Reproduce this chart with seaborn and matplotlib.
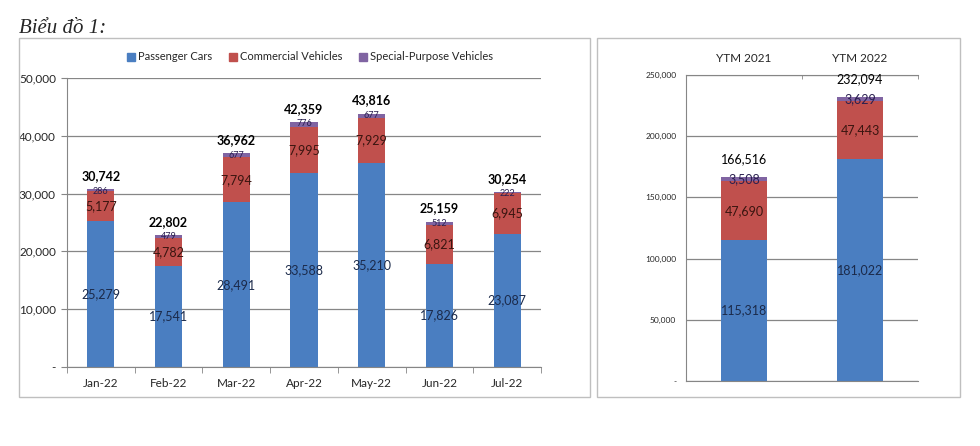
import numpy as np
import pandas as pd
import matplotlib
matplotlib.use("Agg")
import matplotlib.pyplot as plt
from matplotlib.patches import Rectangle
import seaborn as sns

# monthly data
months = ["Jan-22", "Feb-22", "Mar-22", "Apr-22", "May-22", "Jun-22", "Jul-22"]
passenger = [25279, 17541, 28491, 33588, 35210, 17826, 23087]
commercial = [5177, 4782, 7794, 7995, 7929, 6821, 6945]
special = [286, 479, 677, 776, 677, 512, 222]
totals = [30742, 22802, 36962, 42359, 43816, 25159, 30254]

# year-to-month data
ytm_years = ["YTM 2021", "YTM 2022"]
ytm_passenger = [115318, 181022]
ytm_commercial = [47690, 47443]
ytm_special = [3508, 3629]
ytm_totals = [166516, 232094]

series_names = ["Passenger Cars", "Commercial Vehicles", "Special-Purpose Vehicles"]
colors = ["#4A7EC1", "#C0504D", "#8064A2"]
label_colors = ["#1B2A4A", "#3A1510", "#2A2050"]

sns.set_style("white")
plt.rcParams["font.family"] = ["Lato", "DejaVu Sans"]

fig = plt.figure(figsize=(9.8, 4.46), dpi=100)

# panel frames
for x0, x1 in [(19, 590), (597, 960)]:
    fig.patches.append(Rectangle((x0 / 980, 1 - 397 / 446), (x1 - x0) / 980, (397 - 38) / 446,
                                 transform=fig.transFigure, fill=False,
                                 edgecolor="#BFBFBF", linewidth=1.0))

fig.text(19 / 980, 1 - 33 / 446, "Biểu đồ 1:", family="Liberation Serif",
         style="italic", fontsize=15, ha="left", va="baseline")


def stacked(ax, cats, layers):
    df = pd.DataFrame({"cat": cats})
    cum = np.cumsum(np.array(layers), axis=0)
    # draw from the top cumulative down so lower layers cover upper ones
    for i in range(len(layers) - 1, -1, -1):
        df["v"] = cum[i]
        sns.barplot(data=df, x="cat", y="v", color=colors[i], width=0.4,
                    saturation=1, ax=ax, linewidth=0, order=cats)
    return cum


def frame(ax, color="#868686"):
    ax.set_xlim(-0.5, len(ax.get_xticks()) - 0.5)
    ax.set_xlabel("")
    ax.set_ylabel("")
    ax.grid(axis="y", color=color, linewidth=0.9)
    ax.set_axisbelow(True)
    for s in ax.spines.values():
        s.set_color(color)


# ---------------- left chart: monthly ----------------
ax1 = fig.add_axes([67 / 980, 1 - 367 / 446, (541 - 67) / 980, (367 - 78) / 446])
layers = [passenger, commercial, special]
cum = stacked(ax1, months, layers)
frame(ax1)
ax1.spines["top"].set_visible(False)
ax1.spines["right"].set_visible(False)
ax1.set_ylim(0, 50000)
ax1.set_yticks(range(0, 50001, 10000))
ax1.set_yticklabels(["-"] + [f"{v:,}" for v in range(10000, 50001, 10000)])
ax1.tick_params(axis="y", length=4, color="#868686", labelsize=8.5, left=True, pad=4)
ax1.tick_params(axis="x", length=0, labelsize=8.5, pad=8)
ax1.set_xticks(np.arange(-0.5, 7, 1), minor=True)
ax1.tick_params(axis="x", which="minor", length=4, color="#868686", bottom=True)

for j in range(len(months)):
    lo = 0
    for i, vals in enumerate(layers):
        v = vals[j]
        mid = lo + v / 2
        if i == 2:
            ax1.text(j, cum[i][j] - 300, f"{v:,}", ha="center", va="center",
                     fontsize=6.5, color=label_colors[i])
        else:
            ax1.text(j, mid, f"{v:,}", ha="center", va="center",
                     fontsize=9, color=label_colors[i])
        lo += v
    ax1.text(j, totals[j] + 1300, f"{totals[j]:,}", ha="center", va="bottom",
             fontsize=9, fontweight="bold", color="black")

handles = [Rectangle((0, 0), 1, 1, color=c) for c in colors]
fig.legend(handles, series_names, loc="center", bbox_to_anchor=(310 / 980, 1 - 57 / 446),
           ncol=3, frameon=False, fontsize=8, handlelength=0.7, handleheight=0.7,
           handletextpad=0.3, columnspacing=1.5)

# ---------------- right chart: YTM ----------------
ax2 = fig.add_axes([686 / 980, 1 - 381 / 446, 232 / 980, 306 / 446])
ylayers = [ytm_passenger, ytm_commercial, ytm_special]
ycum = stacked(ax2, ytm_years, ylayers)
frame(ax2)
ax2.spines["right"].set_visible(False)
ax2.set_ylim(0, 250000)
ax2.set_yticks(range(0, 250001, 50000))
ax2.set_yticklabels(["-"] + [f"{v:,}" for v in range(50000, 250001, 50000)])
ax2.tick_params(axis="y", length=0, labelsize=6, pad=7)
ax2.xaxis.tick_top()
ax2.tick_params(axis="x", length=0, labelsize=8.5, pad=8, top=False)
ax2.set_xticks(np.arange(-0.5, 2, 1), minor=True)
ax2.tick_params(axis="x", which="minor", length=3, color="#868686", top=True, bottom=False,
                direction="in")

for j in range(len(ytm_years)):
    lo = 0
    for i, vals in enumerate(ylayers):
        v = vals[j]
        if i == 2:
            y = ycum[i][j] - 1500
        else:
            y = lo + v / 2
        ax2.text(j, y, f"{v:,}", ha="center", va="center", fontsize=9,
                 color=label_colors[i])
        lo += v
    ax2.text(j, ytm_totals[j] + 10000, f"{ytm_totals[j]:,}", ha="center", va="bottom",
             fontsize=9, color="black")

fig.savefig("out.png", dpi=100)
